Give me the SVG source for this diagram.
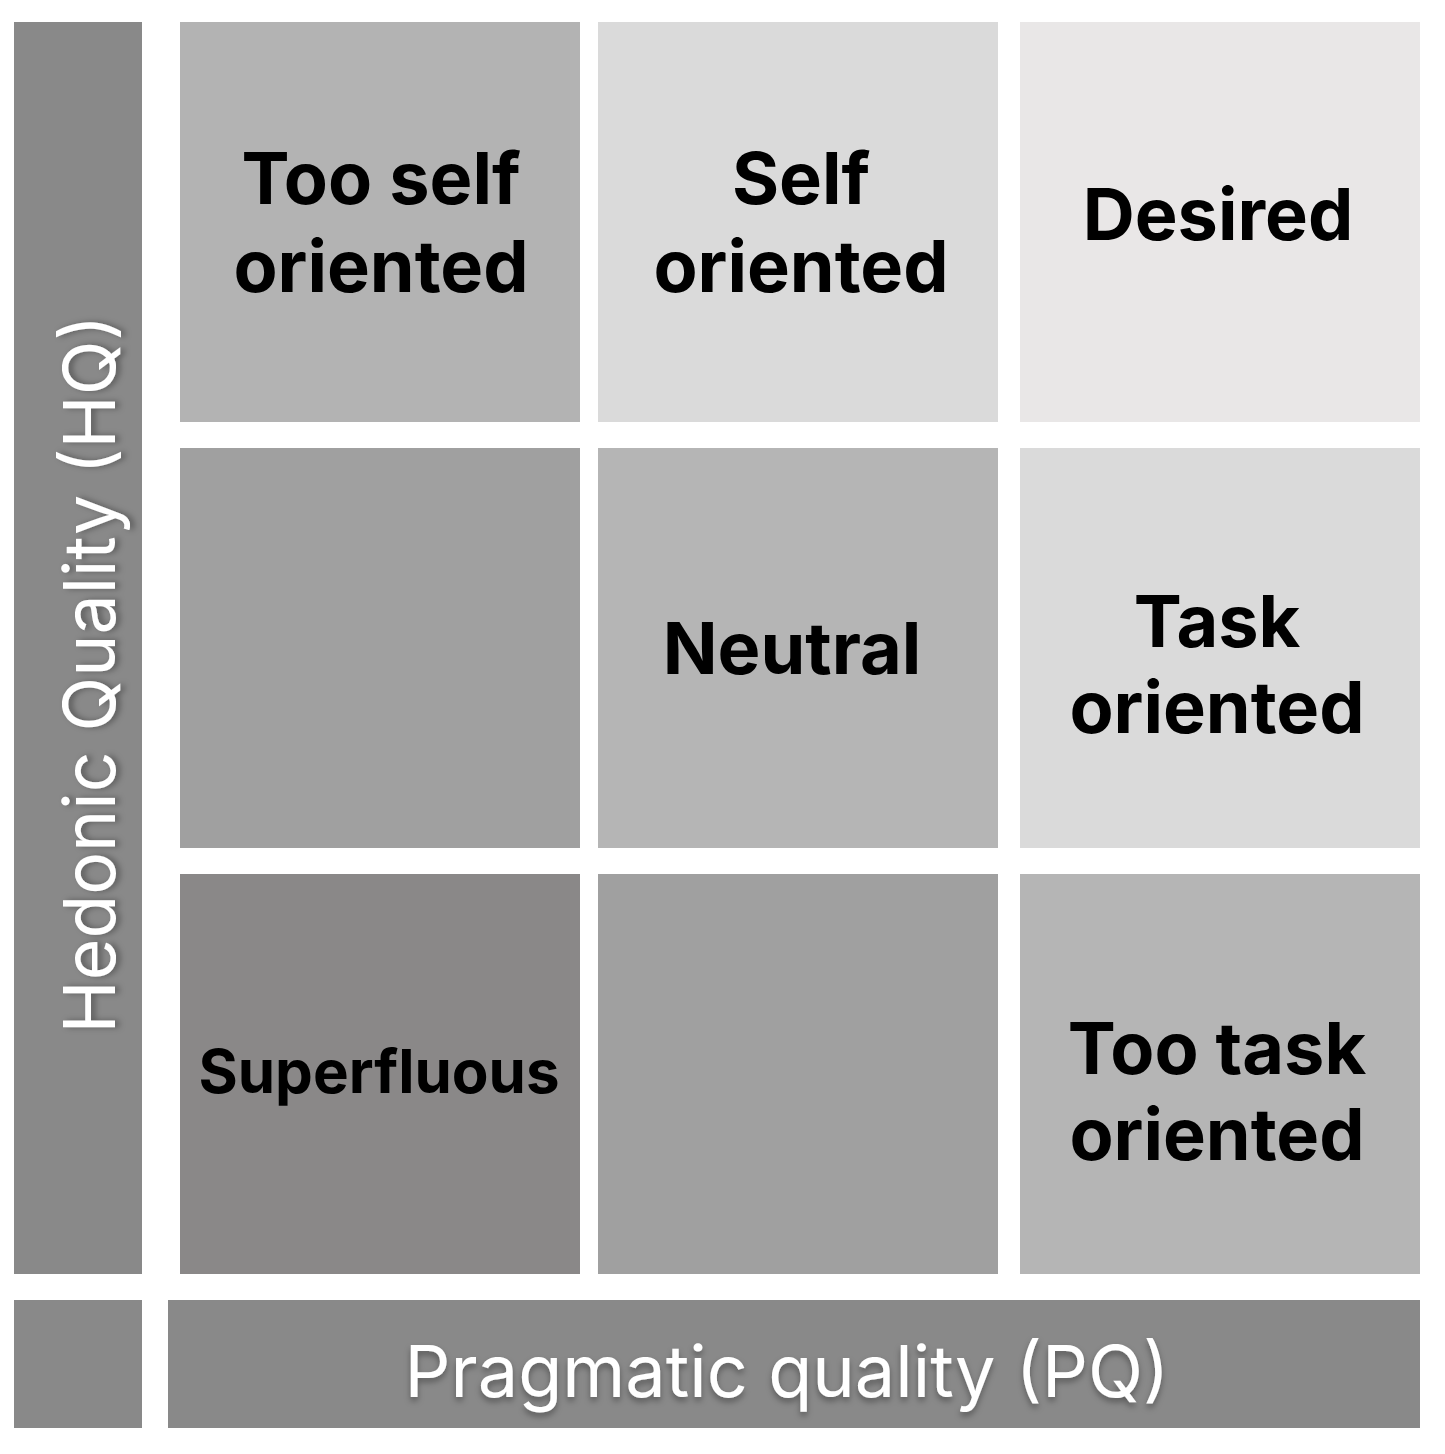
<svg xmlns="http://www.w3.org/2000/svg" width="1445" height="1454" viewBox="0 0 1445 1454">
  <defs>
    <filter id="soft-shadow" x="-10%" y="-30%" width="120%" height="160%">
      <feDropShadow dx="0" dy="4" stdDeviation="3" flood-color="#000" flood-opacity="0.35"/>
    </filter>
  </defs>
  <style>
    .cell-label { font-family: Inter, "Liberation Sans", sans-serif; font-weight: 700; font-size: 72px; fill: #000; text-anchor: middle; }
    .small { font-size: 60px; }
    .axis-label { font-family: Inter, "Liberation Sans", sans-serif; font-weight: 400; font-size: 72px; fill: #fff; text-anchor: middle; }
    .axis { fill: #898989; }
  </style>
  <rect width="1445" height="1454" fill="#fff"/>

  <!-- axes -->
  <g id="axis-hq">
    <rect class="axis" x="14" y="22" width="128" height="1252"/>
    <g transform="translate(115,674) rotate(-90)">
      <text class="axis-label" x="0" y="0" style="font-size:71.5px" filter="url(#soft-shadow)">Hedonic Quality (HQ)</text>
    </g>
  </g>
  <g id="axis-corner">
    <rect class="axis" x="14" y="1300" width="128" height="128"/>
  </g>
  <g id="axis-pq">
    <rect class="axis" x="168" y="1300" width="1252" height="128"/>
    <text class="axis-label" x="787" y="1397" filter="url(#soft-shadow)">Pragmatic quality (PQ)</text>
  </g>

  <!-- top row -->
  <g id="too-self-oriented">
    <rect x="180" y="22" width="400" height="400" fill="#b3b3b3"/>
    <text class="cell-label" x="381" y="204">Too self</text>
    <text class="cell-label" x="381" y="292">oriented</text>
  </g>
  <g id="self-oriented">
    <rect x="598" y="22" width="400" height="400" fill="#dadada"/>
    <text class="cell-label" x="801" y="204">Self</text>
    <text class="cell-label" x="801" y="292">oriented</text>
  </g>
  <g id="desired">
    <rect x="1020" y="22" width="400" height="400" fill="#e9e7e7"/>
    <text class="cell-label" x="1218" y="240">Desired</text>
  </g>

  <!-- middle row -->
  <g id="mid-left">
    <rect x="180" y="448" width="400" height="400" fill="#a0a0a0"/>
  </g>
  <g id="neutral">
    <rect x="598" y="448" width="400" height="400" fill="#b5b5b5"/>
    <text class="cell-label" x="792" y="674">Neutral</text>
  </g>
  <g id="task-oriented">
    <rect x="1020" y="448" width="400" height="400" fill="#dadada"/>
    <text class="cell-label" x="1217" y="647">Task</text>
    <text class="cell-label" x="1217" y="733">oriented</text>
  </g>

  <!-- bottom row -->
  <g id="superfluous">
    <rect x="180" y="874" width="400" height="400" fill="#8a8888"/>
    <text class="cell-label small" x="379" y="1093">Superfluous</text>
  </g>
  <g id="bottom-middle">
    <rect x="598" y="874" width="400" height="400" fill="#a0a0a0"/>
  </g>
  <g id="too-task-oriented">
    <rect x="1020" y="874" width="400" height="400" fill="#b5b5b5"/>
    <text class="cell-label" x="1217" y="1074">Too task</text>
    <text class="cell-label" x="1217" y="1160">oriented</text>
  </g>

  <g id="connectors"/>
</svg>
